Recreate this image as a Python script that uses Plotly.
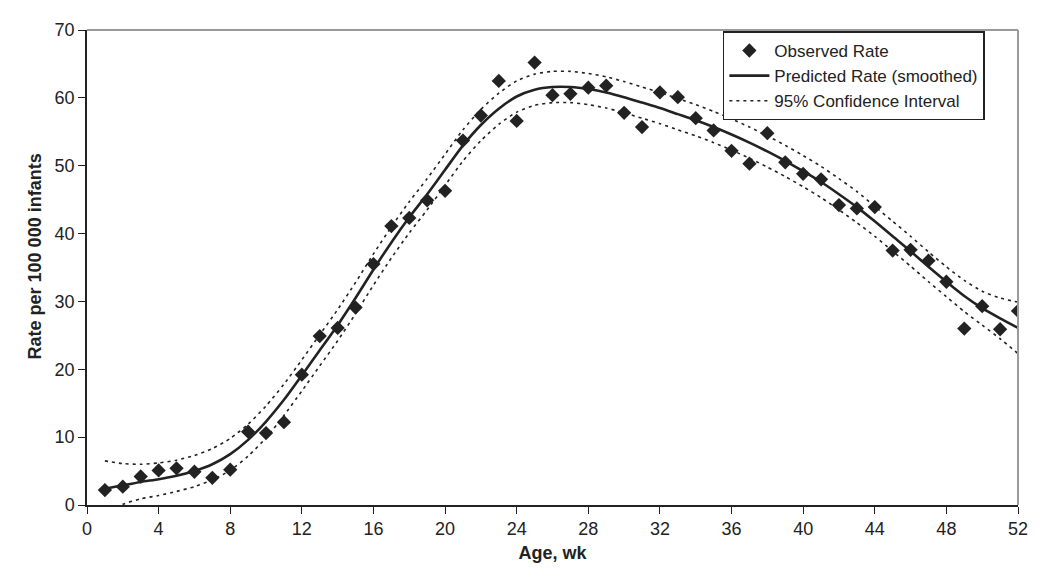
import plotly.graph_objects as go

weeks = list(range(1, 53))

observed = [2.2, 2.7, 4.2, 5.1, 5.4, 4.9, 4.0, 5.2, 10.8, 10.6,
            12.2, 19.2, 24.9, 26.1, 29.1, 35.5, 41.1, 42.3, 44.9, 46.3,
            53.7, 57.4, 62.5, 56.6, 65.2, 60.4, 60.6, 61.5, 61.8, 57.8,
            55.7, 60.8, 60.1, 57.0, 55.2, 52.2, 50.3, 54.8, 50.5, 48.8,
            48.0, 44.2, 43.7, 43.9, 37.5, 37.6, 36.0, 32.9, 26.0, 29.3,
            25.9, 28.6]

predicted = [2.4, 2.9, 3.4, 3.8, 4.3, 5.0, 6.0, 7.5, 9.6, 12.3,
             15.5, 19.1, 22.8, 26.5, 30.5, 34.7, 38.7, 42.4, 45.8, 49.4,
             53.0, 56.0, 58.4, 60.2, 61.2, 61.6, 61.6, 61.3, 60.8, 60.1,
             59.3, 58.5, 57.6, 56.7, 55.7, 54.6, 53.4, 52.1, 50.7, 49.2,
             47.6, 45.8, 43.9, 41.8, 39.6, 37.4, 35.1, 32.9, 30.8, 29.0,
             27.5, 26.1]

upper = [6.5, 6.1, 6.0, 6.2, 6.6, 7.3, 8.3, 9.8, 11.9, 14.6,
         17.8, 21.4, 25.1, 28.8, 32.8, 37.0, 41.0, 44.7, 48.1, 51.7,
         55.3, 58.3, 60.7, 62.5, 63.5, 63.9, 63.9, 63.6, 63.1, 62.4,
         61.6, 60.8, 59.9, 59.0, 58.0, 56.9, 55.7, 54.4, 53.0, 51.5,
         49.9, 48.1, 46.2, 44.0, 41.8, 39.6, 37.3, 35.1, 33.1, 31.5,
         30.5, 29.9]

lower = [-1.6, 0.1, 0.9, 1.4, 2.0, 2.7, 3.7, 5.1, 7.2, 9.9,
         13.2, 16.8, 20.5, 24.2, 28.2, 32.4, 36.4, 40.1, 43.5, 47.1,
         50.7, 53.7, 56.1, 57.9, 58.9, 59.3, 59.3, 59.0, 58.5, 57.8,
         57.0, 56.2, 55.3, 54.4, 53.4, 52.3, 51.1, 49.8, 48.4, 46.9,
         45.3, 43.5, 41.6, 39.6, 37.4, 35.2, 32.9, 30.7, 28.5, 26.5,
         24.5, 22.3]

x_ticks = list(range(0, 53, 4))
y_ticks = list(range(0, 71, 10))

INK = "#222222"
FONT = "Liberation Sans, Arial, sans-serif"

fig = go.Figure()

fig.add_trace(go.Scatter(
    x=weeks, y=observed, mode="markers", name="Observed Rate",
    marker=dict(symbol="diamond", size=11, color=INK),
))
fig.add_trace(go.Scatter(
    x=weeks, y=predicted, mode="lines", name="Predicted Rate (smoothed)",
    line=dict(color=INK, width=2.6, shape="spline", smoothing=0.6),
))
fig.add_trace(go.Scatter(
    x=weeks, y=upper, mode="lines", name="95% Confidence Interval",
    line=dict(color=INK, width=1.6, dash="3px,4px", shape="spline", smoothing=0.6),
))
fig.add_trace(go.Scatter(
    x=weeks, y=lower, mode="lines", name="95% Confidence Interval lower",
    showlegend=False,
    line=dict(color=INK, width=1.6, dash="3px,4px", shape="spline", smoothing=0.6),
))

fig.update_layout(
    width=1050, height=575,
    margin=dict(l=79, r=40, t=17, b=78),
    paper_bgcolor="white", plot_bgcolor="white",
    font=dict(family=FONT, color=INK, size=18),
    showlegend=True,
    legend=dict(
        x=0.683, y=0.997, xanchor="left", yanchor="top",
        bgcolor="white", bordercolor="#222222", borderwidth=1.5,
        font=dict(family=FONT, size=17, color=INK),
        tracegroupgap=0, itemwidth=40,
    ),
    xaxis=dict(
        range=[0, 52], tickvals=x_ticks, ticktext=[str(v) for v in x_ticks],
        showgrid=False, zeroline=False,
        showline=True, linecolor="#222222", linewidth=1.5,
        ticks="outside", ticklen=7, tickwidth=1.2, tickcolor="#222222",
        tickfont=dict(family=FONT, size=18, color=INK),
        title=dict(text="<b>Age, wk</b>", font=dict(family=FONT, size=18, color=INK), standoff=8),
    ),
    yaxis=dict(
        range=[0, 70], tickvals=y_ticks, ticktext=[str(v) for v in y_ticks],
        showgrid=False, zeroline=False,
        showline=True, linecolor="#222222", linewidth=1.5,
        ticks="outside", ticklen=7, tickwidth=1.2, tickcolor="#222222",
        tickfont=dict(family=FONT, size=18, color=INK),
    ),
    annotations=[
        dict(text="<b>Rate per 100 000 infants</b>", textangle=-90,
             xref="paper", yref="paper", x=-0.056, y=0.523,
             xanchor="center", yanchor="middle", showarrow=False,
             font=dict(family=FONT, size=18, color=INK)),
    ],
    shapes=[
        dict(type="line", xref="paper", yref="paper", x0=0, x1=1, y0=1, y1=1,
             line=dict(color="#9a9a9a", width=2)),
        dict(type="line", xref="paper", yref="paper", x0=1, x1=1, y0=0, y1=1,
             line=dict(color="#9a9a9a", width=2)),
    ],
)

fig.write_html("out.html")
